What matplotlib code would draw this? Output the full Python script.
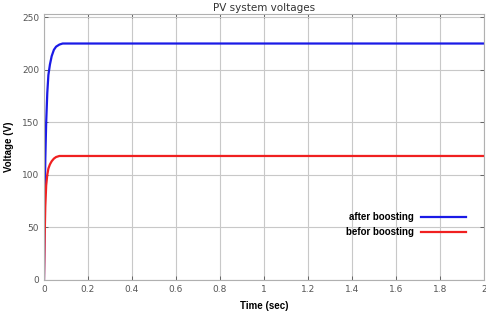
import matplotlib
matplotlib.use("Agg")
import matplotlib.pyplot as plt

# time axis (sec) and the two voltage traces
t = [0.0, 0.003, 0.006, 0.01, 0.015, 0.02, 0.027, 0.035, 0.045, 0.055, 0.07, 0.085, 0.1, 0.5, 1.0, 1.5, 2.0]
v_after = [0.0, 70, 115, 150, 178, 195, 205, 213, 219, 222, 224, 225, 225, 225, 225, 225, 225]
v_befor = [0.0, 40, 70, 90, 100, 106, 110, 113, 115.5, 117, 118, 118, 118, 118, 118, 118, 118]

xticks = [0, 0.2, 0.4, 0.6, 0.8, 1, 1.2, 1.4, 1.6, 1.8, 2]
xtick_labels = ["0", "0.2", "0.4", "0.6", "0.8", "1", "1.2", "1.4", "1.6", "1.8", "2"]
yticks = [0, 50, 100, 150, 200, 250]

fig = plt.figure(figsize=(4.86, 3.11), dpi=100)
ax = fig.add_axes([0.0905, 0.0997, 0.9055, 0.855])

ax.plot(t, v_after, color='#1a1ae6', linewidth=1.6, label='after boosting')
ax.plot(t, v_befor, color='#f02020', linewidth=1.6, label='befor boosting')

ax.set_xlim(0, 2)
ax.set_ylim(0, 253)
ax.set_xticks(xticks)
ax.set_xticklabels(xtick_labels)
ax.set_yticks(yticks)
ax.grid(True, color='#c8c8c8', linewidth=0.8)
ax.tick_params(direction='in', top=True, right=True, length=3, width=0.6,
               labelsize=6.5, labelcolor='#555555', color='#555555')
for s in ax.spines.values():
    s.set_color('#b0b0b0')
    s.set_linewidth(0.8)

lab_font = ['Liberation Sans', 'DejaVu Sans']
ax.set_title('PV system voltages', fontsize=7.5, color='#333333', pad=2)
ax.set_xlabel('Time (sec)', fontsize=7, fontweight='bold', family=lab_font, labelpad=5)
ax.set_ylabel('Voltage (V)', fontsize=7, fontweight='bold', family=lab_font, labelpad=6)

ax.legend(loc='lower right', bbox_to_anchor=(0.978, 0.127), frameon=False, markerfirst=False,
          prop={'family': lab_font, 'weight': 'bold', 'size': 7}, handlelength=4.6,
          handletextpad=0.7, labelspacing=0.55)

fig.savefig('out.png', dpi=100)
